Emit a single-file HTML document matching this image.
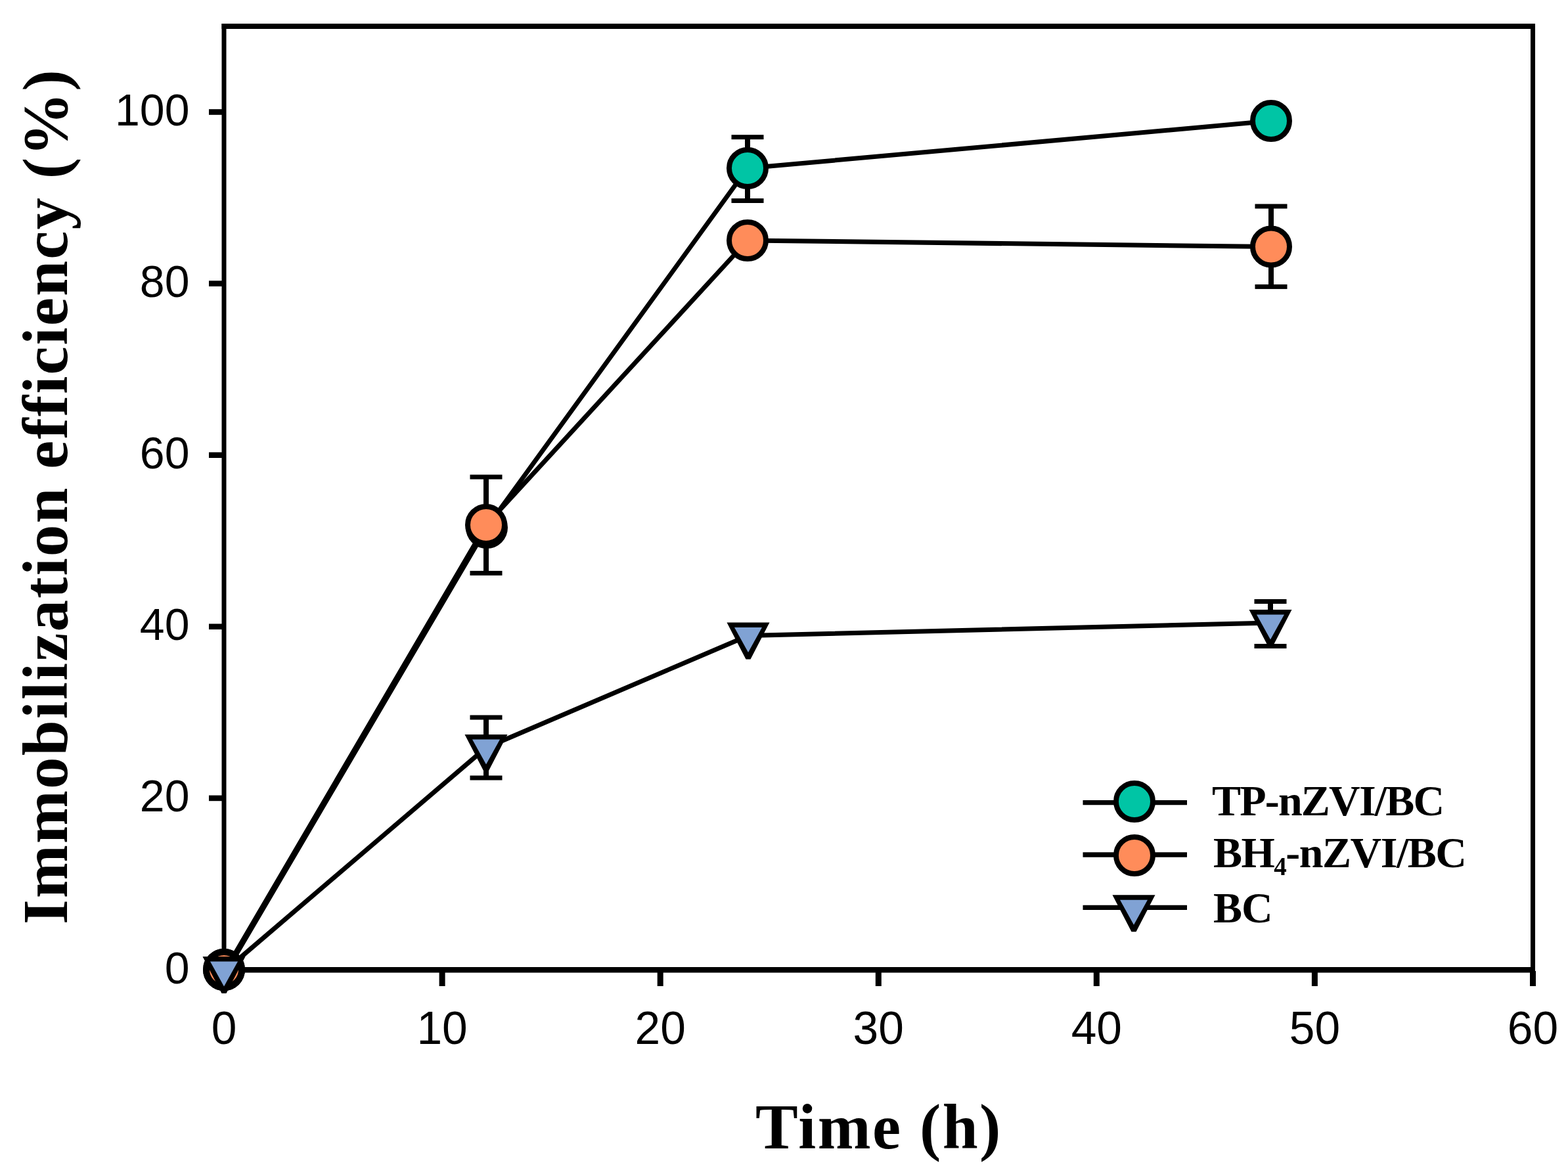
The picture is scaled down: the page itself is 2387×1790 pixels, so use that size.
<!DOCTYPE html>
<html><head><meta charset="utf-8"><title>Immobilization efficiency vs time</title>
<style>html,body{margin:0;padding:0;background:#fff;}svg{display:block;}</style></head>
<body>
<svg width="2387" height="1790" viewBox="0 0 2387 1790">
<rect width="2387" height="1790" fill="#fff"/>
<g fill="#000">
<rect x="337.5" y="36" width="7" height="1444.5"/>
<rect x="2330" y="36" width="7" height="1444.5"/>
<rect x="337.5" y="36" width="1999.5" height="8"/>
<rect x="337.5" y="1472" width="1999.5" height="8.5"/>
<rect x="318" y="1471.7" width="21" height="8.6"/>
<rect x="318" y="1210.6" width="21" height="8.6"/>
<rect x="318" y="949.5" width="21" height="8.6"/>
<rect x="318" y="688.4" width="21" height="8.6"/>
<rect x="318" y="427.3" width="21" height="8.6"/>
<rect x="318" y="166.2" width="21" height="8.6"/>
<rect x="336.5" y="1478" width="9" height="23"/>
<rect x="668.6" y="1478" width="9" height="23"/>
<rect x="1000.7" y="1478" width="9" height="23"/>
<rect x="1332.8" y="1478" width="9" height="23"/>
<rect x="1664.8" y="1478" width="9" height="23"/>
<rect x="1996.9" y="1478" width="9" height="23"/>
<rect x="2329.0" y="1478" width="9" height="23"/>
</g>
<g font-family="'Liberation Sans', Arial, sans-serif" font-size="68" fill="#000">
<text x="341.0" y="1588.5" text-anchor="middle" font-size="69.5">0</text>
<text x="673.1" y="1588.5" text-anchor="middle" font-size="69.5">10</text>
<text x="1005.2" y="1588.5" text-anchor="middle" font-size="69.5">20</text>
<text x="1337.2" y="1588.5" text-anchor="middle" font-size="69.5">30</text>
<text x="1669.3" y="1588.5" text-anchor="middle" font-size="69.5">40</text>
<text x="2001.4" y="1588.5" text-anchor="middle" font-size="69.5">50</text>
<text x="2333.5" y="1588.5" text-anchor="middle" font-size="69.5">60</text>
<text x="288.5" y="1496.5" text-anchor="end">0</text>
<text x="288.5" y="1235.4" text-anchor="end">20</text>
<text x="288.5" y="974.3" text-anchor="end">40</text>
<text x="288.5" y="713.2" text-anchor="end">60</text>
<text x="288.5" y="452.1" text-anchor="end">80</text>
<text x="288.5" y="191.0" text-anchor="end">100</text>
</g>
<g font-family="'Liberation Serif', 'Times New Roman', serif" font-weight="bold" font-size="97" fill="#000">
<text x="1150" y="1748" letter-spacing="2.4">Time (h)</text>
<text transform="translate(102,1407) rotate(-90)" letter-spacing="2.2">Immobilization efficiency (%)</text>
</g>
<polyline points="345,1477.5 741,803 1138,256 1935,184" fill="none" stroke="#000" stroke-width="7" stroke-linejoin="round"/>
<g fill="#000"><rect x="1134.0" y="208.7" width="8" height="96.8"/><rect x="1113.5" y="205.2" width="49" height="7"/><rect x="1113.5" y="302.0" width="49" height="7"/></g>
<circle cx="341.0" cy="1476.0" r="27" fill="#00c5a5" stroke="#000" stroke-width="10"/>
<circle cx="741.0" cy="803.0" r="28" fill="#00c5a5" stroke="#000" stroke-width="8"/>
<circle cx="1138.0" cy="256.0" r="28" fill="#00c5a5" stroke="#000" stroke-width="8"/>
<circle cx="1935.0" cy="184.0" r="28" fill="#00c5a5" stroke="#000" stroke-width="8"/>
<polyline points="342.5,1477.5 740,799 1138,366 1935,375.5" fill="none" stroke="#000" stroke-width="7" stroke-linejoin="round"/>
<g fill="#000"><rect x="736.0" y="726.0" width="8" height="146.4"/><rect x="715.5" y="722.5" width="49" height="7"/><rect x="715.5" y="868.9" width="49" height="7"/><rect x="1931.0" y="314.0" width="8" height="122.4"/><rect x="1910.5" y="310.5" width="49" height="7"/><rect x="1910.5" y="432.9" width="49" height="7"/></g>
<circle cx="341.0" cy="1476.0" r="27" fill="#ff8c5a" stroke="#000" stroke-width="10"/>
<circle cx="740.0" cy="799.0" r="28" fill="#ff8c5a" stroke="#000" stroke-width="8"/>
<circle cx="1138.0" cy="366.0" r="28" fill="#ff8c5a" stroke="#000" stroke-width="8"/>
<circle cx="1935.0" cy="375.5" r="28" fill="#ff8c5a" stroke="#000" stroke-width="8"/>
<polyline points="342.5,1477.5 740,1138 1139,967.5 1934,948" fill="none" stroke="#000" stroke-width="7" stroke-linejoin="round"/>
<g fill="#000"><rect x="736.0" y="1092.0" width="8" height="92.0"/><rect x="715.5" y="1088.5" width="49" height="7"/><rect x="715.5" y="1180.5" width="49" height="7"/><rect x="1930.0" y="915.5" width="8" height="68.0"/><rect x="1909.5" y="912.0" width="49" height="7"/><rect x="1909.5" y="980.0" width="49" height="7"/></g>
<polygon points="308.5,1456.0 373.5,1456.0 344.5,1512.0 337.5,1512.0" fill="#000"/><polygon points="320.0,1463.5 362.0,1463.5 341.0,1501.5" fill="#80a2d4"/>
<polygon points="707.5,1118.0 772.5,1118.0 743.5,1174.0 736.5,1174.0" fill="#000"/><polygon points="719.0,1125.5 761.0,1125.5 740.0,1163.5" fill="#80a2d4"/>
<polygon points="1106.5,947.5 1171.5,947.5 1142.5,1003.5 1135.5,1003.5" fill="#000"/><polygon points="1118.0,955.0 1160.0,955.0 1139.0,993.0" fill="#80a2d4"/>
<polygon points="1901.5,928.0 1966.5,928.0 1937.5,984.0 1930.5,984.0" fill="#000"/><polygon points="1913.0,935.5 1955.0,935.5 1934.0,973.5" fill="#80a2d4"/>
<line x1="1648.5" y1="1221.6" x2="1807" y2="1221.6" stroke="#000" stroke-width="7.4"/>
<circle cx="1727.0" cy="1220.0" r="28" fill="#00c5a5" stroke="#000" stroke-width="8"/>
<line x1="1648.5" y1="1301.0" x2="1807" y2="1301.0" stroke="#000" stroke-width="7.4"/>
<circle cx="1727.0" cy="1302.0" r="28" fill="#ff8c5a" stroke="#000" stroke-width="8"/>
<line x1="1648.5" y1="1381.4" x2="1807" y2="1381.4" stroke="#000" stroke-width="7.4"/>
<polygon points="1693.5,1362.3 1758.5,1362.3 1729.5,1418.3 1722.5,1418.3" fill="#000"/><polygon points="1705.0,1369.8 1747.0,1369.8 1726.0,1407.8" fill="#80a2d4"/>
<g font-family="'Liberation Serif', 'Times New Roman', serif" font-weight="bold" font-size="66" fill="#000">
<text x="1845" y="1241" letter-spacing="-1.8">TP-nZVI/BC</text>
<text x="1847" y="1320" letter-spacing="-1.5">BH<tspan font-size="39" dy="12">4</tspan><tspan dy="-12">-nZVI/BC</tspan></text>
<text x="1847" y="1403.5" letter-spacing="-1">BC</text>
</g>
</svg>
</body></html>
